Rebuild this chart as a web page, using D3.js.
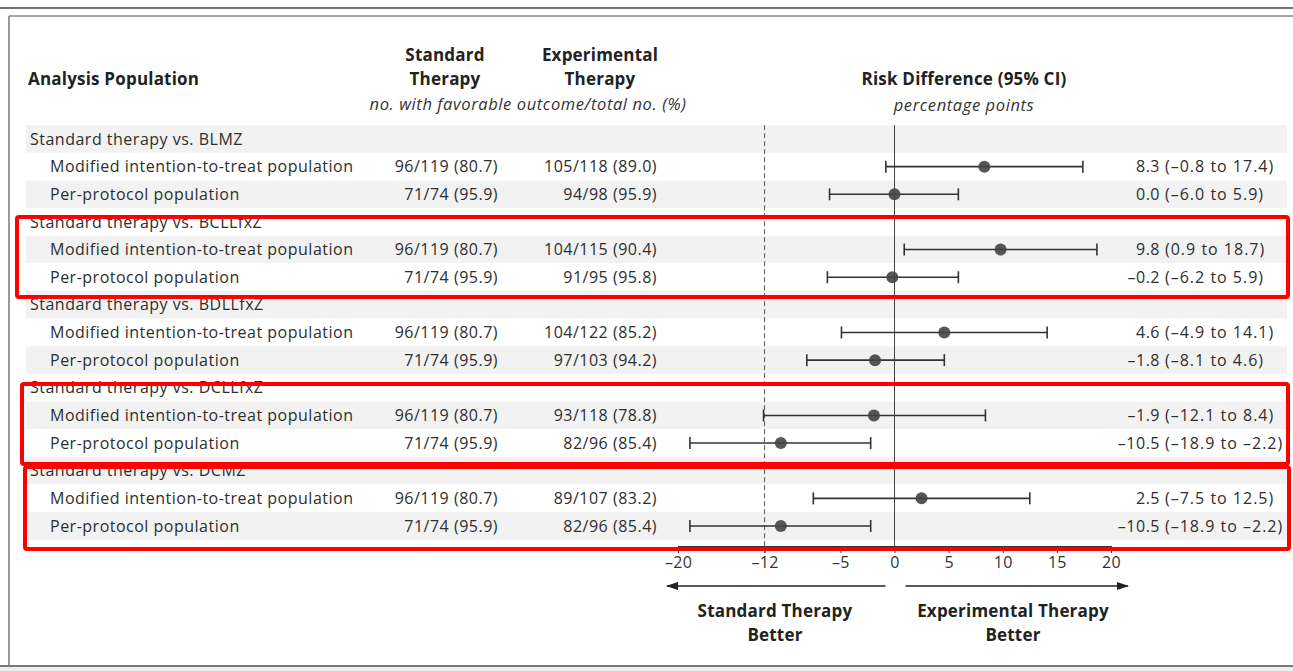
<!DOCTYPE html>
<html>
<head>
<meta charset="utf-8">
<script src="https://cdn.jsdelivr.net/npm/d3@7/dist/d3.min.js"></script>
<style>
  body { margin: 0; background: #fff; }
  svg { display: block; font-family: "Open Sans", "Noto Sans", sans-serif; }
  .lbl { font-size: 16px; letter-spacing: 0.5px; fill: #2e2e2e; }
  .ci { letter-spacing: 1px; }
  .hdr { font-size: 17px; letter-spacing: 0.2px; font-weight: 700; fill: #222; }
  .sub { font-size: 16.5px; letter-spacing: 0.6px; font-style: italic; fill: #333; }
</style>
</head>
<body>
<svg id="chart" width="1293" height="671"></svg>
<script>
// groups and rows
const groups = ['BLMZ', 'BCLLfxZ', 'BDLLfxZ', 'DCLLfxZ', 'DCMZ']
const populations = ['Modified intention-to-treat population', 'Per-protocol population']
const standardCounts = ['96/119 (80.7)', '71/74 (95.9)']
const experimentalCounts = [
  '105/118 (89.0)', '94/98 (95.9)',
  '104/115 (90.4)', '91/95 (95.8)',
  '104/122 (85.2)', '97/103 (94.2)',
  '93/118 (78.8)', '82/96 (85.4)',
  '89/107 (83.2)', '82/96 (85.4)'
]
const estimates = [8.3, 0.0, 9.8, -0.2, 4.6, -1.8, -1.9, -10.5, 2.5, -10.5]
const lowerCI = [-0.8, -6.0, 0.9, -6.2, -4.9, -8.1, -12.1, -18.9, -7.5, -18.9]
const upperCI = [17.4, 5.9, 18.7, 5.9, 14.1, 4.6, 8.4, -2.2, 12.5, -2.2]
const tickValues = [-20, -12, -5, 0, 5, 10, 15, 20]
const margin = -12
// groups that were boxed in red on the source
const highlighted = ['BCLLfxZ', 'DCLLfxZ', 'DCMZ']

const svg = d3.select('#chart')
const fmt = v => (v < 0 ? '\u2013' + Math.abs(v).toFixed(1) : v.toFixed(1))

// flatten into 15 table rows
let rows = []
groups.forEach((g, gi) => {
  rows.push({ type: 'group', label: 'Standard therapy vs. ' + g, group: g })
  populations.forEach((p, pi) => {
    let k = gi * 2 + pi
    rows.push({
      type: 'pop', label: p, group: g,
      std: standardCounts[pi], exp: experimentalCounts[k],
      est: estimates[k], lo: lowerCI[k], hi: upperCI[k]
    })
  })
})

const x = d3.scaleLinear().domain([-20, 20]).range([678, 1111])
const y = d3.scaleLinear().domain([0, rows.length - 1]).range([139, 526])
const rowH = y(1) - y(0)

// frame
svg.append('line').attr('x1', 0).attr('x2', 1293).attr('y1', 8).attr('y2', 8)
  .attr('stroke', '#444').attr('stroke-width', 1.5)
svg.append('line').attr('x1', 9).attr('x2', 1293).attr('y1', 16).attr('y2', 16)
  .attr('stroke', '#888').attr('stroke-width', 1.5)
svg.append('line').attr('x1', 9).attr('x2', 9).attr('y1', 16).attr('y2', 666)
  .attr('stroke', '#777').attr('stroke-width', 1.5)
svg.append('line').attr('x1', 0).attr('x2', 1293).attr('y1', 666).attr('y2', 666)
  .attr('stroke', '#777').attr('stroke-width', 2)
svg.append('rect').attr('x', 0).attr('y', 667).attr('width', 1293).attr('height', 4).attr('fill', '#eee')

// alternating row bands
svg.append('g').selectAll('rect')
  .data(rows)
  .join('rect')
    .attr('x', 26)
    .attr('y', (d, i) => y(i) - rowH / 2)
    .attr('width', 1261)
    .attr('height', rowH)
    .attr('fill', (d, i) => i % 2 === 0 ? '#f2f2f2' : '#fff')

// headers
const hdr = svg.append('g')
hdr.append('text').attr('class', 'hdr').attr('x', 28).attr('y', 85).text('Analysis Population')
hdr.append('text').attr('class', 'hdr').attr('x', 445).attr('y', 61).attr('text-anchor', 'middle').text('Standard')
hdr.append('text').attr('class', 'hdr').attr('x', 445).attr('y', 85).attr('text-anchor', 'middle').text('Therapy')
hdr.append('text').attr('class', 'hdr').attr('x', 600).attr('y', 61).attr('text-anchor', 'middle').text('Experimental')
hdr.append('text').attr('class', 'hdr').attr('x', 600).attr('y', 85).attr('text-anchor', 'middle').text('Therapy')
hdr.append('text').attr('class', 'sub').attr('x', 528).attr('y', 110).attr('text-anchor', 'middle')
  .text('no. with favorable outcome/total no. (%)')
hdr.append('text').attr('class', 'hdr').attr('x', 964).attr('y', 85).attr('text-anchor', 'middle').text('Risk Difference (95% CI)')
hdr.append('text').attr('class', 'sub').attr('x', 964).attr('y', 111).attr('text-anchor', 'middle').text('percentage points')

// table text
const body = svg.append('g')
body.selectAll('text.name')
  .data(rows)
  .join('text')
    .attr('class', 'name lbl')
    .attr('x', d => d.type === 'group' ? 30 : 50)
    .attr('y', (d, i) => y(i))
    .attr('dy', '0.35em')
    .text(d => d.label)

const pops = rows.map((d, i) => Object.assign({ i }, d)).filter(d => d.type === 'pop')
body.selectAll('text.std')
  .data(pops)
  .join('text')
    .attr('class', 'std lbl')
    .attr('x', 498).attr('y', d => y(d.i)).attr('dy', '0.35em')
    .attr('text-anchor', 'end')
    .text(d => d.std)
body.selectAll('text.exp')
  .data(pops)
  .join('text')
    .attr('class', 'exp lbl')
    .attr('x', 657).attr('y', d => y(d.i)).attr('dy', '0.35em')
    .attr('text-anchor', 'end')
    .text(d => d.exp)
body.selectAll('text.est')
  .data(pops)
  .join('text')
    .attr('class', 'est lbl')
    .attr('x', 1160).attr('y', d => y(d.i)).attr('dy', '0.35em')
    .attr('text-anchor', 'end')
    .text(d => fmt(d.est))
body.selectAll('text.ci')
  .data(pops)
  .join('text')
    .attr('class', 'ci lbl')
    .attr('x', 1165).attr('y', d => y(d.i)).attr('dy', '0.35em')
    .text(d => '(' + fmt(d.lo) + ' to ' + fmt(d.hi) + ')')

// reference lines
const axisY = 546
svg.append('line')
  .attr('x1', x(margin)).attr('x2', x(margin))
  .attr('y1', y(0) - rowH / 2).attr('y2', axisY + 7)
  .attr('stroke', '#555').attr('stroke-width', 1).attr('stroke-dasharray', '5,3')
svg.append('line')
  .attr('x1', x(0)).attr('x2', x(0))
  .attr('y1', y(0) - rowH / 2).attr('y2', axisY)
  .attr('stroke', '#444').attr('stroke-width', 1)

// CI bars
const ci = svg.append('g').selectAll('g')
  .data(pops)
  .join('g')
    .attr('transform', d => `translate(0,${y(d.i)})`)
ci.append('line')
  .attr('x1', d => x(d.lo)).attr('x2', d => x(d.hi))
  .attr('stroke', '#333').attr('stroke-width', 1.6)
ci.selectAll('line.cap')
  .data(d => [d.lo, d.hi])
  .join('line')
    .attr('class', 'cap')
    .attr('x1', v => x(v)).attr('x2', v => x(v))
    .attr('y1', -6).attr('y2', 6)
    .attr('stroke', '#333').attr('stroke-width', 1.6)
ci.append('circle')
  .attr('cx', d => x(d.est)).attr('r', 6)
  .attr('fill', '#444').attr('fill-opacity', 0.9)

// axis
const axis = svg.append('g')
  .attr('transform', `translate(0,${axisY})`)
  .call(d3.axisBottom(x).tickValues(tickValues).tickSize(7).tickSizeOuter(0).tickPadding(4))
axis.select('.domain').attr('stroke', '#333')
axis.selectAll('.tick line').attr('stroke', '#333')
axis.selectAll('.tick text')
  .attr('font-family', '"Open Sans", sans-serif').attr('font-size', 16)
  .attr('letter-spacing', 0.3).attr('fill', '#333')
  .text(d => d < 0 ? '\u2013' + Math.abs(d) : d)

// direction arrows
const defs = svg.append('defs')
defs.append('marker')
  .attr('id', 'head').attr('viewBox', '0 0 12 10').attr('refX', 11).attr('refY', 5)
  .attr('markerUnits', 'userSpaceOnUse')
  .attr('markerWidth', 13).attr('markerHeight', 10).attr('orient', 'auto-start-reverse')
  .append('path').attr('d', 'M0,1L12,5L0,9Z').attr('fill', '#222')
const arrowY = 586
svg.append('line')
  .attr('x1', x(0) - 9).attr('x2', x(-20) - 11).attr('y1', arrowY).attr('y2', arrowY)
  .attr('stroke', '#222').attr('stroke-width', 1.6).attr('marker-end', 'url(#head)')
svg.append('line')
  .attr('x1', x(0) + 11).attr('x2', x(20) + 17).attr('y1', arrowY).attr('y2', arrowY)
  .attr('stroke', '#222').attr('stroke-width', 1.6).attr('marker-end', 'url(#head)')
const better = svg.append('g').attr('text-anchor', 'middle')
better.append('text').attr('class', 'hdr').attr('x', 775).attr('y', 617).text('Standard Therapy')
better.append('text').attr('class', 'hdr').attr('x', 775).attr('y', 641).text('Better')
better.append('text').attr('class', 'hdr').attr('x', 1013).attr('y', 617).text('Experimental Therapy')
better.append('text').attr('class', 'hdr').attr('x', 1013).attr('y', 641).text('Better')

// red highlight boxes around groups
const boxes = [
  { group: 'BCLLfxZ', x0: 17, x1: 1288, top: 217, bottom: 297 },
  { group: 'DCLLfxZ', x0: 22, x1: 1288, top: 384, bottom: 464 },
  { group: 'DCMZ', x0: 25, x1: 1289, top: 467, bottom: 549 }
].filter(b => highlighted.includes(b.group))
svg.append('g').selectAll('rect')
  .data(boxes)
  .join('rect')
    .attr('x', d => d.x0).attr('y', d => d.top)
    .attr('width', d => d.x1 - d.x0).attr('height', d => d.bottom - d.top)
    .attr('rx', 2)
    .attr('fill', 'none').attr('stroke', '#f00').attr('stroke-width', 4)
</script>
</body>
</html>
